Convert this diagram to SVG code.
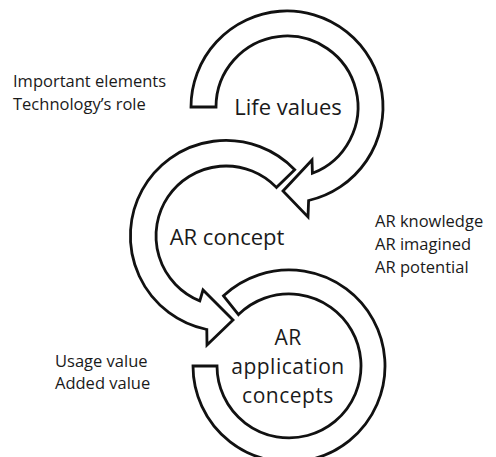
<svg xmlns="http://www.w3.org/2000/svg" width="496" height="457" viewBox="0 0 496 457">
  <style>
    .band { fill: #ffffff; stroke: #111111; stroke-width: 2.8; stroke-linejoin: miter; }
    .title { font-family: "Open Sans", "Noto Sans", sans-serif; font-size: 22px; fill: #1a1a1a; text-anchor: middle; }
    .title-stack { font-family: "Open Sans", "Noto Sans", sans-serif; font-size: 21px; letter-spacing: 0.5px; fill: #1a1a1a; text-anchor: middle; }
    .note { font-family: "Open Sans", "Noto Sans", sans-serif; font-size: 16.5px; fill: #1a1a1a; }
  </style>
  <rect width="496" height="457" fill="#ffffff"/>

  <g id="connectors">
    <!-- top loop: starts flat at the left, runs clockwise and ends in an arrowhead pointing down-left -->
    <path id="loop-life-values" class="band"
          d="M 191 107 L 216 107 A 71 71 0 1 1 312.4 173.3 L 312 160 L 283 191 L 308 217 L 308.6 200.5 A 96 96 0 1 0 191 107 Z"/>
    <!-- bottom loop: flat end at the left, open gap at upper left -->
    <path id="loop-application" class="band"
          d="M 193 366 A 96 96 0 1 0 223.5 295.8 L 238.5 314.6 A 72 72 0 1 1 217 366 Z"/>
    <!-- middle loop: starts at upper right, runs counter-clockwise and ends in an arrowhead pointing right -->
    <path id="loop-ar-concept" class="band"
          d="M 294.7 169.7 A 95.5 95.5 0 1 0 206.8 329.5 L 207 345 L 233 320 L 203 290 L 199.8 300.9 A 70 70 0 1 1 276.4 187.4 Z"/>
  </g>

  <g id="node-life-values">
    <text class="title" x="288" y="115">Life values</text>
  </g>
  <g id="node-ar-concept">
    <text class="title" x="227" y="245">AR concept</text>
  </g>
  <g id="node-ar-application-concepts">
    <text class="title-stack" x="288" y="345">AR</text>
    <text class="title-stack" x="288" y="374">application</text>
    <text class="title-stack" x="288" y="403">concepts</text>
  </g>

  <g id="note-life-values">
    <text class="note" x="13" y="87">Important elements</text>
    <text class="note" x="13" y="110">Technology’s role</text>
  </g>
  <g id="note-ar-concept">
    <text class="note" x="375" y="227">AR knowledge</text>
    <text class="note" x="375" y="250">AR imagined</text>
    <text class="note" x="375" y="273">AR potential</text>
  </g>
  <g id="note-application">
    <text class="note" x="55" y="367">Usage value</text>
    <text class="note" x="55" y="389">Added value</text>
  </g>
</svg>
